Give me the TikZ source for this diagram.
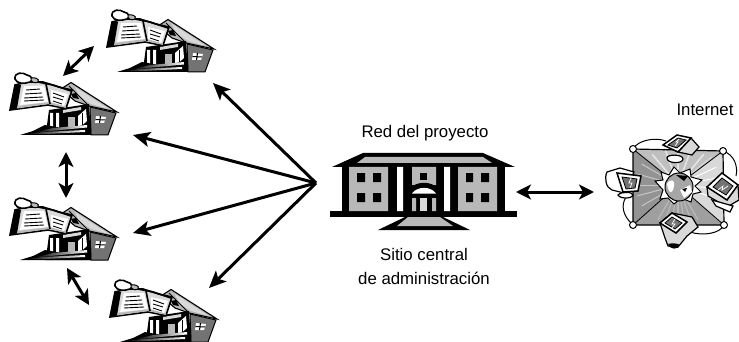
\documentclass[tikz,border=0pt]{standalone}
\usepackage{fontspec}
\setmainfont{Liberation Sans}
\usetikzlibrary{arrows.meta}
\definecolor{gA}{gray}{0.72}
\definecolor{gB}{gray}{0.45}
\definecolor{gC}{gray}{0.85}
\tikzset{
 lab/.style={font=\fontsize{16.8}{18}\selectfont,inner sep=0pt,align=center},
 link/.style={line width=3pt,-{Stealth[length=17pt,width=15pt,inset=4pt]},black},
 both/.style={line width=3pt,{Stealth[length=15pt,width=15pt,inset=4pt]}-{Stealth[length=15pt,width=15pt,inset=4pt]},black},
 house/.pic={
  % roof
  \fill[gA,draw=black,line width=1.1pt] (158,26) -- (168,19.5) -- (214,49) -- (186,43) -- (172,38) -- cycle;
  \fill[gC] (172,24) -- (206,46) -- (188,41) -- (176,33) -- cycle;
  \draw[black,line width=.9pt] (166,23) -- (186,43);
  \fill[black] (168,31) -- (173,30) -- (176,36) -- (170,35) -- cycle;
  % wall
  \fill[gB,draw=black,line width=1pt] (187,44) -- (213,50) -- (205,72) -- (188,72) -- cycle;
  \fill[white] (193,53) -- (203,54) -- (201,60) -- (192,60) -- cycle;
  \draw[black,line width=1pt] (192.5,56.5) -- (202,57) (197.5,53) -- (196.5,60);
  % porch
  \fill[black] (146,47) -- (186,41) -- (188,72) -- (142,72) -- (144,62) -- cycle;
  \fill[gA] (165,54) rectangle (172,66);
  \fill[white] (175,53) -- (183,46) -- (184,58) -- (175,66) -- cycle;
  \draw[black,line width=1pt] (179,50) -- (179,63);
  \fill[white] (147,50) rectangle (150,65) (153,50) rectangle (156,65);
  \fill[gC] (160,47) -- (178,44) -- (178,47) -- (160,50) -- cycle;
  % steps
  \fill[black] (117,72) -- (130,68) -- (142,62) -- (165,66) -- (188,60) -- (188,72) -- cycle;
  \shade[left color=black,right color=white] (132,69.5) -- (150,65) -- (184,62) -- (184,64.5) -- (152,67.5) -- cycle;
  \shade[left color=black,right color=white] (124,71) -- (140,69) -- (182,67) -- (182,69) -- (142,71) -- cycle;
  % book
  \fill[gC,draw=black,line width=1.6pt] (112,22) -- (107,47) -- (145,42) -- (163,45.5) -- (169,27) -- (156,24) -- (140,19) -- (124,19) -- cycle;
  \fill[black] (112,22) -- (107,47) -- (114,45.5) -- (118,22) -- cycle;
  \fill[gA] (114,45.5) -- (145,41) -- (163,45) -- (162,43) -- (146,39) -- (115,43) -- cycle;
  \fill[white] (121,23) -- (141,23) -- (145,39) -- (117,42) -- cycle;
  \fill[white] (148,27) -- (165,31) -- (161,43) -- (148,39) -- cycle;
  \draw[black,line width=.9pt] (123,27) -- (137,26) (122,31) -- (139,30) (121,35) -- (140,34) (121,38) -- (141,37);
  \draw[black,line width=.9pt] (150,30) -- (161,34) (150,34) -- (160,37) (150,38) -- (159,41);
  \draw[black,line width=1.6pt] (143,21) -- (147,41);
  \draw[black,line width=1.6pt] (126,18) -- (135,19) -- (150,22) -- (168,28);
  % scroll
  \fill[white,draw=black,line width=1.6pt] (112,16) .. controls (111,9) and (120,9) .. (124,12) .. controls (129,13) and (131,17) .. (127,19) .. controls (121,21) and (114,21) .. (112,16) -- cycle;
  \fill[gA,draw=black,line width=1pt] (128,15) .. controls (132,14) and (137,16) .. (135,19) .. controls (132,21) and (127,19) .. (128,15) -- cycle;
 },
 college/.pic={
  \fill[black] (330,211) rectangle (517,217);
  \fill[black] (332,167) -- (363,153) -- (483,153) -- (515,167) -- cycle;
  \fill[gA] (357,163) -- (365,157) -- (483,157) -- (492,163) -- cycle;
  \fill[black] (342,167) rectangle (505,211);
  \fill[gA] (349,167) rectangle (388,211) (458,167) rectangle (497,211) (412,167) rectangle (436,185);
  \fill[white] (397,167) rectangle (403,211) (444,167) rectangle (450,211);
  \fill[black] (420,173) rectangle (427,180);
  \fill[black] (357,173) rectangle (365,182) (373,173) rectangle (381,182)
   (357,193) rectangle (365,202) (373,193) rectangle (381,202)
   (466,173) rectangle (473,182) (481,173) rectangle (489,182)
   (466,193) rectangle (473,202) (481,193) rectangle (489,202);
  \fill[black] (410,188) .. controls (418,181) and (430,181) .. (438,188) -- (438,197) -- (410,197) -- cycle;
  \fill[white] (412,193.5) .. controls (417,186) and (431,186) .. (436,193.5) -- cycle;
  \fill[gA] (412,198) rectangle (416,211) (432,198) rectangle (436,211);
  \fill[gC] (420,198) rectangle (427,211);
  \fill[black] (378,230) -- (405,217) -- (443,217) -- (470,230) -- cycle;
  \fill[gA] (397,226) -- (408,217) -- (440,217) -- (453,226) -- cycle;
 },
 net/.pic={
  \draw[black,line width=1pt] (633,149) .. controls (638,140) and (655,137) .. (666,141);
  \draw[black,line width=1pt] (723,151) .. controls (735,155) and (738,167) .. (736,176);
  \draw[black,line width=1pt] (724,225) .. controls (720,234) and (702,236) .. (690,232);
  \draw[black,line width=1pt] (633,225) .. controls (622,215) and (621,205) .. (626,197);
  \fill[gray!85] (633,149) -- (678,185) -- (633,225) -- cycle;
  \fill[gA!90] (633,149) -- (723,151) -- (678,185) -- cycle;
  \fill[gC] (723,151) -- (724,225) -- (678,185) -- cycle;
  \fill[gray!75] (633,225) -- (724,225) -- (678,185) -- cycle;
  \foreach \a in {200,210,...,240}{\draw[gC,line width=1pt] (678,185) -- ++(\a-60:-44);}
  \foreach \a in {60,70,...,120}{\draw[gray!55,line width=1.2pt] (678,185) -- ++(\a:40);}
  \foreach \a in {-130,-110,...,-50}{\draw[gC!70,line width=1.6pt] (678,185) -- ++(\a:40);}
  \foreach \a in {150,165,...,210}{\draw[gray!45,line width=1pt] (678,185) -- ++(\a:42);}
  \foreach \a in {-25,-10,...,25}{\draw[white,line width=1pt] (678,185) -- ++(\a:42);}
  \draw[black,line width=1.2pt] (633,149) -- (723,151) -- (724,225) -- (633,225) -- cycle;
  \draw[black,line width=.8pt] (633,149) -- (678,185) (723,151) -- (678,185) (724,225) -- (678,185) (633,225) -- (678,185);
  \foreach \p in {(633,149),(723,151),(724,225),(633,225)}{\fill[white,draw=black,line width=1pt] \p circle (3.5);}
  \fill[white,draw=black,line width=1pt] (655,181) -- (663,180) -- (661,172) -- (669,175) -- (674,167) -- (680,173) -- (690,169) -- (691,177) -- (702,180) -- (695,186) -- (701,192) -- (693,194) -- (691,202) -- (681,198) -- (674,204) -- (668,198) -- (660,199) -- (663,190) -- cycle;
  \fill[gray!70,draw=black,line width=1pt] (679,187) circle (14);
  \fill[white] (667,184) .. controls (670,178) and (676,180) .. (674,186) .. controls (673,193) and (669,196) .. (667,184) -- cycle;
  \fill[white] (680,190) -- (690,185) -- (692,192) -- (684,198) -- cycle;
  \fill[black] (676,175) -- (688,176) -- (684,181) -- cycle;
  \fill[black] (682,189) -- (687,188) -- (685,192) -- cycle;
  % top monitor
  \fill[gC,draw=black,line width=1.2pt] (691,138) -- (699,147) -- (692,155) -- (678,152) -- cycle;
  \fill[white,draw=black,line width=1.2pt] (667,158) .. controls (667,154) and (683,154) .. (683,159) .. controls (683,164) and (667,164) .. (667,158) -- cycle;
  \fill[white,draw=black,line width=1.5pt] (663,145) -- (677,135) -- (691,138) -- (678,152) -- cycle;
  \fill[gB,draw=black,line width=.8pt] (668,145) -- (678,138) -- (686,140) -- (677,148) -- cycle;
  \draw[white,line width=.7pt] (675,146) -- (678,142) -- (676,142) -- (679,139);
  % left monitor
  \fill[white,draw=black,line width=1.2pt] (607,172) .. controls (604,178) and (606,188) .. (612,190) -- (624,193) -- (634,172) -- (620,168) -- cycle;
  \fill[white,draw=black,line width=1.2pt] (618,195) .. controls (622,191) and (633,192) .. (633,195) .. controls (632,199) and (620,199) .. (618,195) -- cycle;
  \fill[white,draw=black,line width=1.5pt] (617,173) -- (641,176) -- (638,191) -- (623,192) -- cycle;
  \fill[gB,draw=black,line width=.8pt] (622,177) -- (637,179) -- (635,188) -- (626,189) -- cycle;
  \draw[white,line width=.7pt] (631,178) -- (629,183) -- (632,183) -- (630,188);
  % right monitor
  \fill[gC,draw=black,line width=1.2pt] (707,187) -- (708,196) -- (727,207) -- (739,200) -- (738,185) -- cycle;
  \fill[white,draw=black,line width=1.2pt] (712,200) -- (733,206) -- (730,212) -- (716,206) -- cycle;
  \fill[white,draw=black,line width=1.5pt] (707,187) -- (722,173) -- (738,185) -- (727,200) -- cycle;
  \fill[gB,draw=black,line width=.8pt] (713,187) -- (722,178) -- (733,186) -- (726,195) -- cycle;
  \draw[white,line width=.7pt] (718,190) -- (723,186) -- (722,190) -- (728,186);
  % bottom monitor
  \fill[gC,draw=black,line width=1.2pt] (660,223) -- (665,238) -- (668,246) -- (678,247) -- (687,236) -- (698,227) -- (692,217) -- (672,213) -- cycle;
  \fill[black] (668,244) .. controls (672,243) and (677,243) .. (680,245) .. controls (678,250) and (670,250) .. (668,244) -- cycle;
  \fill[white,draw=black,line width=1.5pt] (660,223) -- (672,213) -- (687,222) -- (676,233) -- cycle;
  \fill[gB,draw=black,line width=.8pt] (665,223) -- (672,217) -- (682,223) -- (675,229) -- cycle;
  \draw[white,line width=.7pt] (675,219) -- (672,224) -- (675,224) -- (672,228);
 }
}
\begin{document}
\begin{tikzpicture}[x=1pt,y=-1pt]
\useasboundingbox (0,0) rectangle (739,342);
\fill[white] (0,0) rectangle (739,342);
\pic at (0,0) {house};
\pic at (-97,63) {house};
\pic at (-97,188) {house};
\pic at (3,270) {house};
\pic at (0,0) {college};
\pic at (0,0) {net};
\node[lab] (red) at (425,133) {Red del proyecto};
\node[lab] (sitio) at (424,266) {Sitio central\\[6pt]de administración};
\node[lab] (inet) at (705,110) {Internet};
\coordinate (hub) at (316,183);
\coordinate (h1) at (213,83);
\coordinate (h2) at (133,135);
\coordinate (h3) at (133,233);
\coordinate (h4) at (209,288);
\coordinate (a1) at (63,76); \coordinate (a2) at (94,46);
\coordinate (b1) at (66,152); \coordinate (b2) at (66,198);
\coordinate (c1) at (67,268); \coordinate (c2) at (89,305);
\coordinate (d1) at (516,192); \coordinate (d2) at (594,192);
\draw[link] (hub) -- (h1);
\draw[link] (hub) -- (h2);
\draw[link] (hub) -- (h3);
\draw[link] (hub) -- (h4);
\draw[both] (a1) -- (a2);
\draw[both] (b1) -- (b2);
\draw[both] (c1) -- (c2);
\draw[both] (d1) -- (d2);
\end{tikzpicture}
\end{document}
